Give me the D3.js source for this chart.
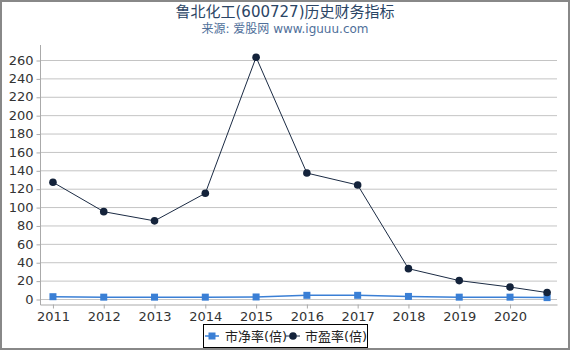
<!DOCTYPE html>
<html>
<head>
<meta charset="utf-8">
<script src="https://cdn.jsdelivr.net/npm/d3@7"></script>
<style>
body { margin: 0; background: #fff; }
text { font-family: "DejaVu Sans", "Noto Sans CJK SC", sans-serif; }
</style>
</head>
<body>
<div id="chart"></div>
<script>
// data
var years = [2011, 2012, 2013, 2014, 2015, 2016, 2017, 2018, 2019, 2020, 2020.73]
var yearLabels = [2011, 2012, 2013, 2014, 2015, 2016, 2017, 2018, 2019, 2020]
var pb = [2.5, 2, 2, 2, 2.2, 4, 4, 2.8, 2, 2, 1.5]
var pe = [127, 95, 85, 115, 263, 137, 124, 33, 20, 13, 7]
var yTicks = [0, 20, 40, 60, 80, 100, 120, 140, 160, 180, 200, 220, 240, 260]

var W = 570, H = 350
var margin = {top: 45, right: 13, bottom: 46, left: 40},
    width = W - margin.left - margin.right,
    height = H - margin.top - margin.bottom

var svg = d3.select("#chart").append("svg")
    .attr("width", W)
    .attr("height", H)

// outer frame
svg.append("rect")
    .attr("x", 1).attr("y", 1)
    .attr("width", W - 2).attr("height", H - 2)
    .attr("fill", "none")
    .attr("stroke", "#888")
    .attr("stroke-width", 2)

// titles
svg.append("text")
    .attr("x", W / 2).attr("y", 17)
    .attr("text-anchor", "middle")
    .attr("font-size", 15)
    .attr("fill", "#2b4565")
    .text("鲁北化工(600727)历史财务指标")
svg.append("text")
    .attr("x", W / 2).attr("y", 33)
    .attr("text-anchor", "middle")
    .attr("font-size", 12)
    .attr("fill", "#4f6f9a")
    .text("来源: 爱股网 www.iguuu.com")

var g = svg.append("g")
    .attr("transform", "translate(" + margin.left + "," + margin.top + ")")

var x = d3.scaleLinear()
    .domain([2010.745, 2020.925])
    .range([0, width])

var y = d3.scaleLinear()
    .domain([0, 260])
    .range([254, 15])

// grid lines
g.append("g")
    .selectAll("line")
    .data(yTicks)
    .enter()
    .append("line")
    .attr("x1", 0).attr("x2", width)
    .attr("y1", function(d) { return y(d) + 0.5 })
    .attr("y2", function(d) { return y(d) + 0.5 })
    .attr("stroke", "#c4c4c4")
    .attr("stroke-width", 1)

// Y axis
var yAxis = g.append("g")
    .attr("transform", "translate(0.5,0)")
    .call(d3.axisLeft(y).tickValues(yTicks).tickSize(4).tickPadding(3))
yAxis.select(".domain").remove()
yAxis.selectAll(".tick line").attr("stroke", "#aaa").attr("transform", "translate(0,0.5)")
yAxis.selectAll("text").attr("font-size", 13).attr("fill", "#333")
    .attr("font-family", "DejaVu Sans")
g.append("line")
    .attr("x1", 0.5).attr("x2", 0.5)
    .attr("y1", 0).attr("y2", height + 1)
    .attr("stroke", "#aaa")

// X axis
var xAxis = g.append("g")
    .attr("transform", "translate(0," + (259.5) + ")")
    .call(d3.axisBottom(x).tickValues(yearLabels).tickFormat(d3.format("d")).tickSize(4).tickSizeOuter(0).tickPadding(3))
xAxis.select(".domain").attr("stroke", "#aaa")
xAxis.selectAll(".tick line").attr("stroke", "#aaa")
xAxis.selectAll("text").attr("font-size", 13).attr("fill", "#333")
    .attr("font-family", "DejaVu Sans")

var pbData = years.map(function(d, i) { return [d, pb[i]] })
var peData = years.map(function(d, i) { return [d, pe[i]] })

var line = d3.line()
    .x(function(d) { return x(d[0]) })
    .y(function(d) { return y(d[1]) })

// PB series
g.append("path")
    .datum(pbData)
    .attr("fill", "none")
    .attr("stroke", "#3a7fd5")
    .attr("stroke-width", 1.5)
    .attr("d", line)
g.selectAll(".pb")
    .data(pbData)
    .enter()
    .append("rect")
    .attr("class", "pb")
    .attr("x", function(d) { return x(d[0]) - 3.5 })
    .attr("y", function(d) { return y(d[1]) - 3.5 })
    .attr("width", 7).attr("height", 7)
    .attr("fill", "#3a7fd5")

// PE series
g.append("path")
    .datum(peData)
    .attr("fill", "none")
    .attr("stroke", "#1b2b44")
    .attr("stroke-width", 1)
    .attr("d", line)
g.selectAll(".pe")
    .data(peData)
    .enter()
    .append("circle")
    .attr("class", "pe")
    .attr("cx", function(d) { return x(d[0]) })
    .attr("cy", function(d) { return y(d[1]) })
    .attr("r", 3.8)
    .attr("fill", "#14233b")

// legend
var lg = svg.append("g").attr("transform", "translate(203,324)")
lg.append("rect")
    .attr("x", 0.5).attr("y", 0.5)
    .attr("width", 164).attr("height", 23)
    .attr("fill", "#fff")
    .attr("stroke", "#000")
lg.append("line").attr("x1", 2).attr("x2", 16).attr("y1", 12).attr("y2", 12)
    .attr("stroke", "#3a7fd5").attr("stroke-width", 1.5)
lg.append("rect").attr("x", 5.5).attr("y", 8.5).attr("width", 7).attr("height", 7)
    .attr("fill", "#3a7fd5")
lg.append("text").attr("x", 22).attr("y", 17).attr("font-size", 13).attr("fill", "#222")
    .text("市净率(倍)")
lg.append("line").attr("x1", 83).attr("x2", 97).attr("y1", 12).attr("y2", 12)
    .attr("stroke", "#1b2b44").attr("stroke-width", 1)
lg.append("circle").attr("cx", 90).attr("cy", 12).attr("r", 3.8)
    .attr("fill", "#14233b")
lg.append("text").attr("x", 102).attr("y", 17).attr("font-size", 13).attr("fill", "#222")
    .text("市盈率(倍)")
</script>
</body>
</html>
